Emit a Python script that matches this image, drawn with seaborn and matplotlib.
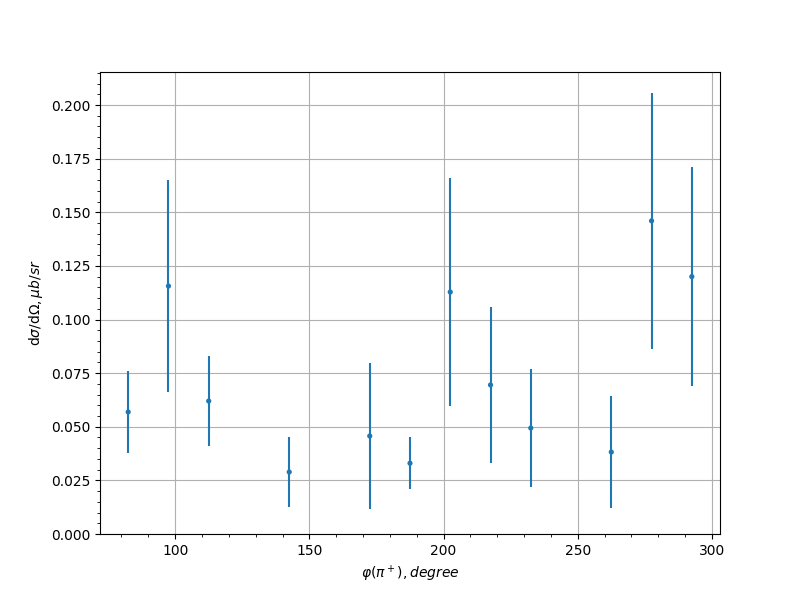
import numpy as np
import matplotlib
matplotlib.use("Agg")
import matplotlib.pyplot as plt
import seaborn as sns

# angoli (gradi) e sezione d'urto
phi = [82.5, 97.5, 112.5, 142.5, 172.5, 187.5, 202.5, 217.5, 232.5, 262.5, 277.5, 292.5]
sigma = [0.0569, 0.1156, 0.0620, 0.0289, 0.0457, 0.0330, 0.1128, 0.0695, 0.0494, 0.0382, 0.1460, 0.1200]
err = [0.0190, 0.0495, 0.0212, 0.0163, 0.0340, 0.0122, 0.0532, 0.0363, 0.0275, 0.0261, 0.0597, 0.0512]

fig, ax = plt.subplots(figsize=(8, 6), dpi=100)
ax.errorbar(phi, sigma, yerr=err, fmt='none', ecolor='#1f77b4', elinewidth=1.5)
sns.scatterplot(x=phi, y=sigma, ax=ax, color='#1f77b4', s=14, edgecolor='none', zorder=3)

ax.set_ylim(bottom=0)
ax.minorticks_on()
ax.grid(True, which='major', color='#b0b0b0', linewidth=0.8)
ax.set_axisbelow(True)
ax.set_xlabel(r'$\varphi(\pi^+), degree$')
ax.set_ylabel(r'd$\sigma$/d$\Omega, \mu b/sr$')

plt.savefig("out.png")
